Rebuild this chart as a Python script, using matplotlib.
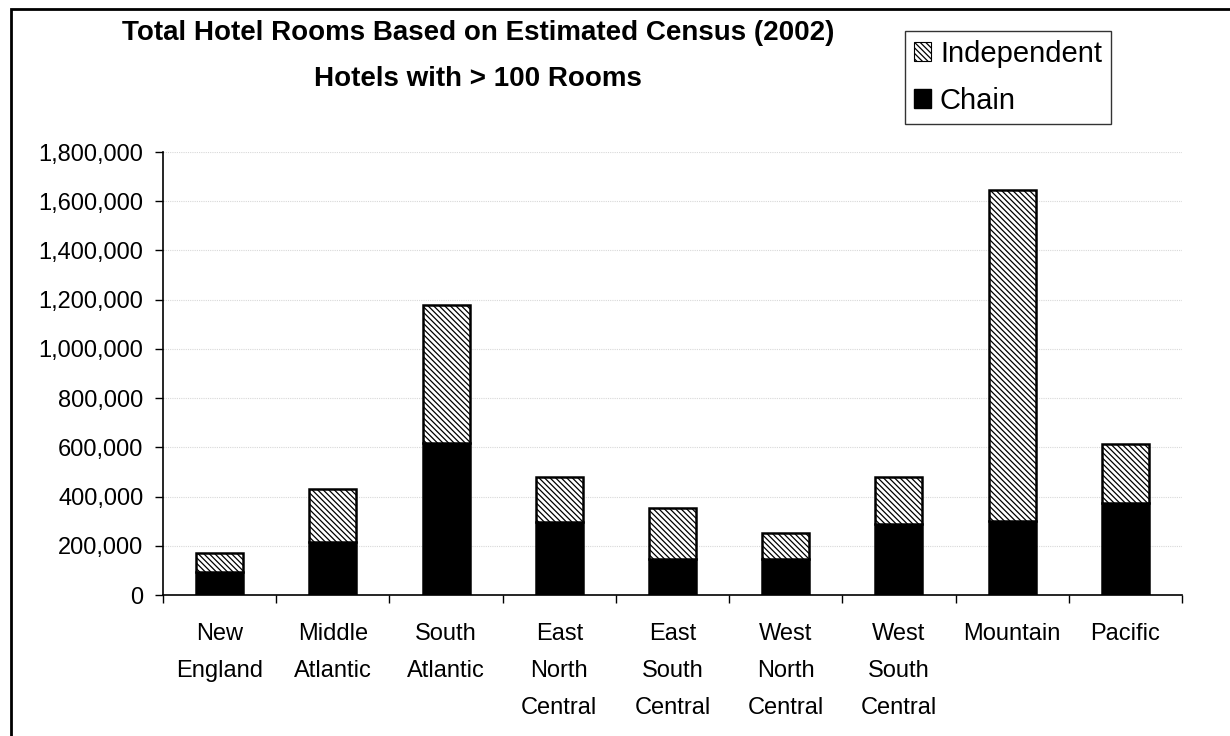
import numpy as np
import matplotlib
matplotlib.use("Agg")
import matplotlib.pyplot as plt
from matplotlib.patches import Rectangle, Patch

plt.rcParams['font.family'] = ['Liberation Sans', 'DejaVu Sans']
plt.rcParams['hatch.linewidth'] = 0.9

regions = ['New\nEngland', 'Middle\nAtlantic', 'South\nAtlantic', 'East\nNorth\nCentral',
           'East\nSouth\nCentral', 'West\nNorth\nCentral', 'West\nSouth\nCentral',
           'Mountain', 'Pacific']
chain = [92000, 217000, 616000, 295000, 145000, 145000, 287000, 301000, 373000]
independent = [77000, 213000, 562000, 186000, 210000, 108000, 191000, 1345000, 241000]
yticks = [0, 200000, 400000, 600000, 800000, 1000000, 1200000, 1400000, 1600000, 1800000]

fig = plt.figure(figsize=(12.3, 7.36), dpi=100)
ax = fig.add_axes([163/1230, 1-595/736, (1182-163)/1230, (595-152)/736])

x = np.arange(len(regions))
w = 0.415
hatch = '\\' * 6
ax.bar(x, chain, w, color='black', edgecolor='black', linewidth=1.8, zorder=3)
ax.bar(x, independent, w, bottom=chain, color='white', edgecolor='black',
       hatch=hatch, linewidth=1.8, zorder=3)

ax.set_xlim(-0.5, len(regions) - 0.5)
ax.set_ylim(0, 1800000)
ax.set_yticks(yticks)
ax.set_yticklabels(['{:,}'.format(v) for v in yticks])
ax.yaxis.grid(True, color='#d8d8d8', linewidth=0.8, linestyle=(0, (1, 1)), zorder=0)

# ticks at category boundaries, labels at centres
ax.set_xticks(np.arange(len(regions) + 1) - 0.5)
ax.set_xticklabels([])
ax.set_xticks(x, minor=True)
ax.set_xticklabels(regions, minor=True, fontsize=17, linespacing=1.9, va='top')
ax.tick_params(axis='x', which='major', direction='out', length=6, width=1)
ax.tick_params(axis='x', which='minor', length=0, pad=20)
ax.tick_params(axis='y', direction='out', length=6, width=1, pad=8, labelsize=17)

for s in ['top', 'right']:
    ax.spines[s].set_visible(False)
for s in ['left', 'bottom']:
    ax.spines[s].set_linewidth(1.2)

fig.text(478/1230, 1-56/736, 'Total Hotel Rooms Based on Estimated Census (2002)\nHotels with > 100 Rooms',
         ha='center', va='center', fontsize=20, fontweight='bold', linespacing=2.05)

handles = [Patch(facecolor='white', edgecolor='black', hatch=hatch, linewidth=0.8),
           Patch(facecolor='black', edgecolor='black')]
leg = fig.legend(handles, ['Independent', 'Chain'], loc='upper left',
                 bbox_to_anchor=(905/1230, 1-31/736), fontsize=21, frameon=True,
                 fancybox=False, edgecolor='black', handlelength=0.6, handleheight=0.6,
                 handletextpad=0.3, labelspacing=0.66, borderpad=0.3, borderaxespad=0)
leg.get_frame().set_linewidth(1.0)

# outer chart border
fig.patches.append(Rectangle((11/1230, -0.05), 1.1, 1.05 - 9/736, transform=fig.transFigure,
                             fill=False, edgecolor='black', linewidth=2))

fig.savefig('out.png', dpi=100)
